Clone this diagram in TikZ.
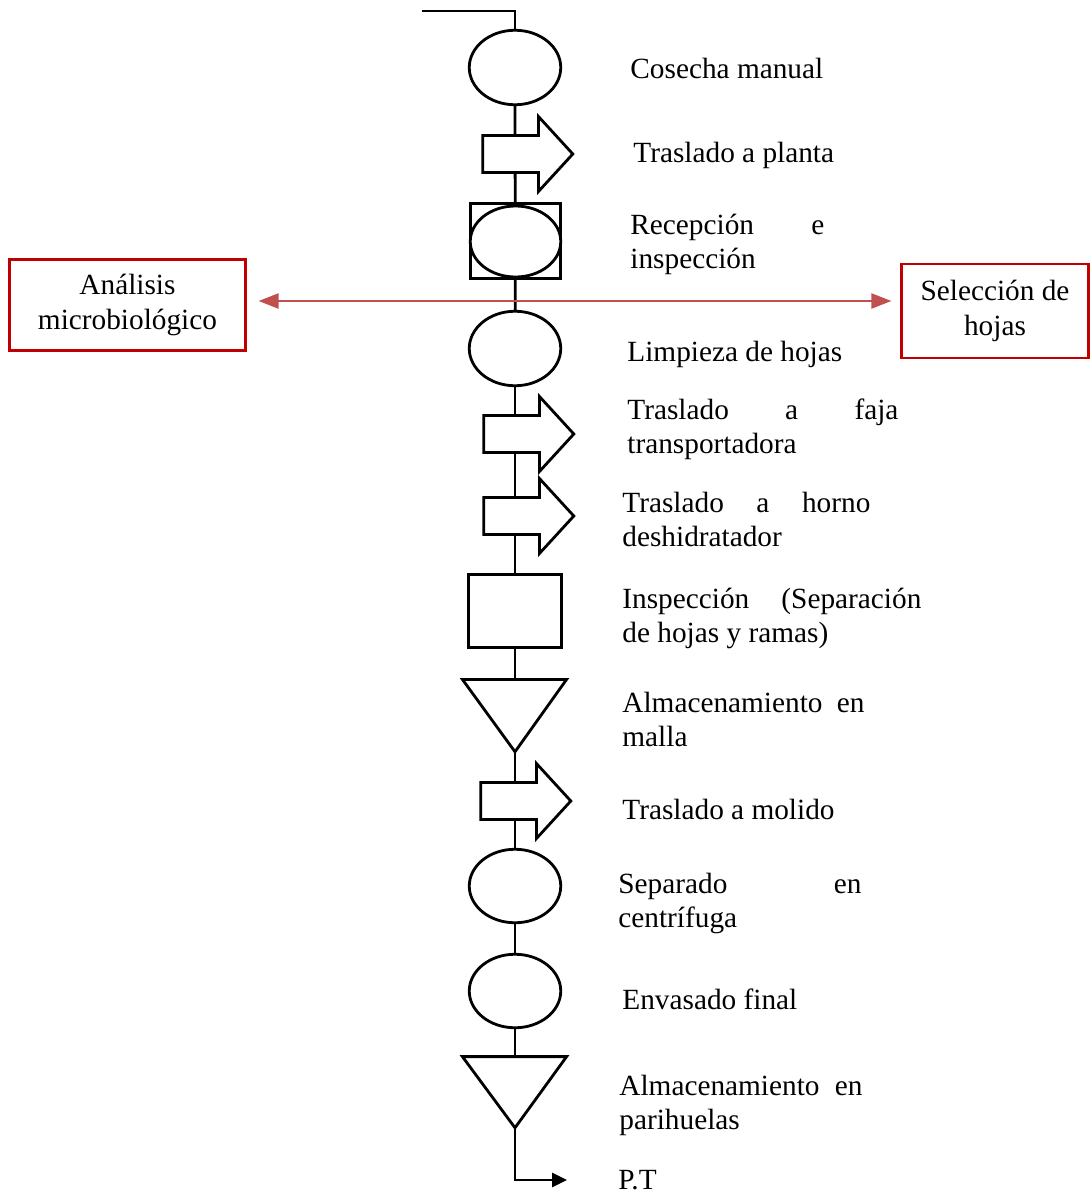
\documentclass[tikz,border=0pt]{standalone}
\usepackage{fontspec}
\setmainfont{Liberation Serif}
\usetikzlibrary{shapes.geometric,shapes.arrows,arrows.meta,backgrounds}
\definecolor{boxred}{HTML}{C00000}
\definecolor{arrred}{HTML}{C0504D}
\begin{document}
\begin{tikzpicture}[x=1pt,y=-1pt,line width=2.8pt,
  flow/.style={draw,fill=white,line width=2.8pt,inner sep=0pt},
  oval/.style={flow,ellipse,minimum width=91.5pt,minimum height=74.5pt},
  box/.style={flow,rectangle},
  move/.style={flow,single arrow,single arrow head extend=19pt,
    single arrow tip angle=95,inner xsep=0pt,inner ysep=17.1pt,
    minimum height=90pt,anchor=tail},
  tri/.style={draw,fill=white,line width=2.8pt,line join=miter},
  lbl/.style={anchor=base west,inner sep=0pt,font=\fontsize{29.3}{34.5}\selectfont},
  redbox/.style={draw=boxred,line width=2.2pt,inner sep=0pt,align=center,
    font=\fontsize{29.3}{34.5}\selectfont},
  redarr/.style={draw=arrred,line width=2.2pt,
    {Triangle[length=20pt,width=15pt]}-{Triangle[length=20pt,width=15pt]}},
  link/.style={line width=2.8pt}]
\useasboundingbox (0,0) rectangle (1089,1193);

% process symbols
\node[oval] (e1) at (515,67.5) {};
\node[move] (a1) at (481.4,154) {};
\node[box,minimum width=90.5pt,minimum height=75.5pt] (r2) at (515.5,241) {};
\node[flow,ellipse,minimum width=90.5pt,minimum height=71pt] (e2) at (515.5,241.5) {};
\node[oval] (e3) at (515,348.5) {};
\node[move] (a2) at (482.4,434) {};
\node[move] (a3) at (482.4,516) {};
\node[box,minimum width=93.2pt,minimum height=73.2pt] (sq4) at (515,611) {};
\draw[tri] (462.4,679.4) -- (566.6,679.4) -- (515,751.8) -- cycle;
\coordinate (t1top) at (515,679.4);
\coordinate (t1apex) at (515,751.8);
\node[move] (a4) at (479.4,801) {};
\node[oval,minimum height=73.5pt] (e5) at (515,886) {};
\node[oval,minimum height=73.5pt] (e6) at (515,991) {};
\draw[tri] (462.4,1056.6) -- (566.6,1056.6) -- (515,1127.8) -- cycle;
\coordinate (t2top) at (515,1056.6);
\coordinate (t2apex) at (515,1127.8);
\coordinate (start) at (422,11);
\coordinate (ptend) at (567,1180);

% connectors
\begin{scope}[on background layer]
\draw[link] (start) -| (e1);
\draw[link] (e1) -- (e1 |- a1) -- (r2);
\draw[link] (r2) -- (e3);
\draw[link] (e3) -- (e3 |- a2) -- (e3 |- a3) -- (sq4);
\draw[link] (sq4) -- (t1top);
\draw[link] (t1apex) -- (t1apex |- a4) -- (e5);
\draw[link] (e5) -- (e6);
\draw[link] (e6) -- (t2top);
\end{scope}
\draw[link,-{Triangle[length=15pt,width=14pt]}] (t2apex) |- (ptend);

% side boxes
\node[redbox,minimum width=236pt,minimum height=91pt] (anal) at (127.5,305) {Análisis\\microbiológico};
\node[redbox,minimum width=187pt,minimum height=94pt] (sel) at (995,311) {Selección de\\hojas};
\draw[redarr,shorten <=12pt,shorten >=9pt] (anal.east |- 0,301) -- (sel.west |- 0,301);

% labels
\node[lbl] (l1) at (629,79) {Cosecha manual};
\node[lbl] (l2) at (632,163) {Traslado a planta};
\node[lbl] (l3) at (629,234) {\parbox[t]{300pt}{\makebox[194pt][s]{Recepción e}\\inspección}};
\node[lbl] (l4) at (626,361) {Limpieza de hojas};
\node[lbl] (l5) at (626,419) {\parbox[t]{300pt}{\makebox[271pt][s]{Traslado a faja}\\transportadora}};
\node[lbl] (l6) at (621,512) {\parbox[t]{300pt}{\makebox[248pt][s]{Traslado a horno}\\deshidratador}};
\node[lbl] (l7) at (621,608) {\parbox[t]{320pt}{\makebox[299pt][s]{Inspección (Separación}\\de hojas y ramas)}};
\node[lbl] (l8) at (621,712) {\parbox[t]{300pt}{\makebox[242pt][s]{Almacenamiento en}\\malla}};
\node[lbl] (l9) at (621,819) {Traslado a molido};
\node[lbl] (l10) at (617,893) {\parbox[t]{300pt}{\makebox[243pt][s]{Separado en}\\centrífuga}};
\node[lbl] (l11) at (621,1009) {Envasado final};
\node[lbl] (l12) at (618,1095) {\parbox[t]{300pt}{\makebox[243pt][s]{Almacenamiento en}\\parihuelas}};
\node[lbl] (l13) at (617,1189) {P.T};
\end{tikzpicture}
\end{document}
